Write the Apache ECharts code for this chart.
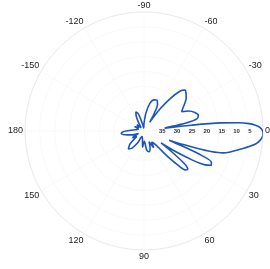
<!DOCTYPE html>
<html><head><meta charset="utf-8">
<script src="https://cdn.jsdelivr.net/npm/echarts@6/dist/echarts.min.js"></script>
<style>html,body{margin:0;padding:0;background:#fff}#c{width:270px;height:269px}</style>
</head><body><div id="c"></div>
<script>
// Pattern: angle (deg, negative = upper half) and attenuation (dB, 0 at the rim)
const angleDeg = [-180,-172,-164,-155,-147,-138,-130,-124,-118,-113,-108,-102,-96,-90,-84,-78,-72,-67,-63,-60,-57,-54,-51,-48,-45,-42,-38,-34,-30,-27,-24,-20,-16,-13,-11,-9.5,-8,-7,-6,-5,-4,-3,-2,-1,0,1,2,3,4,5,6,7,8,10,12,14,15.5,17,18,19,20,21.5,23,25,27,29,31,33,35,37,39,41,43,45,47,50,55,60,65,70,76,82,88,95,102,110,118,125,131,137,143,150,156,163,169,174,178];
const attenuation = [34,37,38,36.5,38,36.8,38.5,37,34.5,33,34,37.5,39,37.5,34,30.5,29,28.8,30,33,36.5,31,26,22,20.5,21,22,23.5,25,25.8,23.5,21.8,21,21.8,25,30,33,24,14,8,4.5,2.5,1.2,0.5,0.1,0,0,0.2,0.6,1.1,1.7,2.6,3.8,6.2,8.5,10.5,12.5,16.5,21,26,31,26,19,15,14.6,16.5,21,27,33,28,22.5,20.5,20.8,23.5,28,34,35.5,33.5,36,34,32.8,33.5,36.5,34.5,37.5,38,35.5,33,32,33.5,37,35.5,38,35.5,33.5,32.3,33];
const angleTicks = [0,30,60,90,120,150,180,210,240,270,300,330];
const radiusTicks = [0,5,10,15,20,25,30,35,40];

const data = angleDeg.map((a, i) => [attenuation[i], (a + 360) % 360]);
data.push(data[0]);

const chart = echarts.init(document.getElementById('c'), null, {renderer: 'canvas'});
chart.setOption({
  animation: false,
  backgroundColor: '#fff',
  polar: {center: [144, 131], radius: 119},
  angleAxis: {
    type: 'value', min: 0, max: 360, interval: 30, startAngle: 0, clockwise: true,
    axisLine: {lineStyle: {color: '#ebebeb', width: 1}},
    axisTick: {show: false},
    axisLabel: {margin: 2, color: '#222', fontSize: 9, fontFamily: 'Liberation Sans',
      formatter: v => (v > 180 ? String(v - 360) : String(v))},
    splitLine: {lineStyle: {color: '#f5f5f5', type: 'dotted'}}
  },
  radiusAxis: {
    type: 'value', min: 0, max: 40, interval: 5, inverse: true,
    axisLine: {show: false}, axisTick: {show: false},
    axisLabel: {margin: -3, align: 'left', fontSize: 6, fontWeight: 'bold', color: '#333', fontFamily: 'Liberation Sans',
      formatter: v => (v === 40 || v === 0 ? '' : String(v))},
    splitLine: {lineStyle: {color: '#f5f5f5', type: 'dotted'}}
  },
  series: [{
    type: 'line', coordinateSystem: 'polar', data: data, showSymbol: false, smooth: 0.3,
    lineStyle: {color: '#1d55bb', width: 1.6}
  }]
});
</script></body></html>
